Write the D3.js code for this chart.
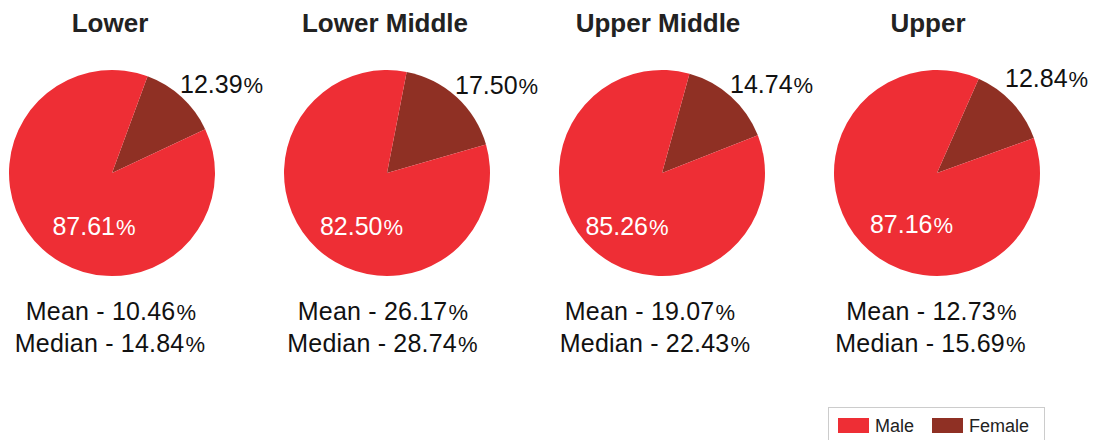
<!DOCTYPE html>
<html>
<head>
<meta charset="utf-8">
<script src="https://cdn.jsdelivr.net/npm/d3@7"></script>
<style>
  html, body { margin: 0; padding: 0; background: #fff; }
  svg { display: block; font-family: "Liberation Sans", Arial, Helvetica, sans-serif; }
</style>
</head>
<body>
<svg id="chart" width="1095" height="440"></svg>
<script>
// ---- data ----
const categories = ["Lower", "Lower Middle", "Upper Middle", "Upper"];
const seriesNames = ["Male", "Female"];
const maleShare = [87.61, 82.50, 85.26, 87.16];
const femaleShare = [12.39, 17.50, 14.74, 12.84];
const meanGap = [10.46, 26.17, 19.07, 12.73];
const medianGap = [14.84, 28.74, 22.43, 15.69];

// ---- layout / style ----
const colors = { Male: "#EE2E35", Female: "#8F3024" };
const femaleMidDeg = [42.5, 42.5, 42, 47];   // rotation of the female slice
const titleShift = [-2, -2, -4, -9];
const meanShift = [-1, -4, -12, -5.5];
const medianShift = [-2, -4.5, -7, -6.5];
const femLabelDY = [-80, -79, -80, -86];
const maleLabelDX = [-18, -25.5, -35, -25.5];
const maleLabelDY = [62, 62, 62, 60];
const radius = 103, cy = 173;

const svg = d3.select("#chart");
const x = d3.scalePoint().domain(categories).range([112, 937]);
const arc = d3.arc().innerRadius(0).outerRadius(radius);

function pctText(sel, prefix, value) {
  sel.append("tspan").text(prefix + value.toFixed(2));
  sel.append("tspan").attr("font-size", "0.88em").attr("dx", 1).text("%");
}

categories.forEach((cat, i) => {
  const cx = x(cat);
  const fem = femaleShare[i], male = maleShare[i];
  const start = (femaleMidDeg[i] - fem * 3.6 / 2) * Math.PI / 180;
  const pie = d3.pie().sort(null).value(d => d.v)
    .startAngle(start).endAngle(start + 2 * Math.PI);
  const arcs = pie([{ k: "Female", v: fem }, { k: "Male", v: male }]);

  const g = svg.append("g").attr("transform", `translate(${cx},${cy})`);
  g.selectAll("path").data(arcs).enter().append("path")
    .attr("d", arc)
    .attr("fill", d => colors[d.data.k]);

  // title
  svg.append("text")
    .attr("x", cx + titleShift[i]).attr("y", 32)
    .attr("text-anchor", "middle")
    .attr("font-size", 26).attr("font-weight", "bold")
    .attr("fill", "#222")
    .text(cat);

  // female label
  const ft = g.append("text")
    .attr("x", 68).attr("y", femLabelDY[i])
    .attr("font-size", 25).attr("fill", "#111");
  pctText(ft, "", fem);

  // male label
  const mt = g.append("text")
    .attr("x", maleLabelDX[i]).attr("y", maleLabelDY[i])
    .attr("text-anchor", "middle")
    .attr("font-size", 25).attr("fill", "#fff");
  pctText(mt, "", male);

  // mean / median
  const t1 = svg.append("text").attr("x", cx + meanShift[i]).attr("y", 320)
    .attr("text-anchor", "middle").attr("font-size", 25)
    .attr("letter-spacing", 0.2).attr("fill", "#111");
  pctText(t1, "Mean - ", meanGap[i]);
  const t2 = svg.append("text").attr("x", cx + medianShift[i]).attr("y", 352)
    .attr("text-anchor", "middle").attr("font-size", 25)
    .attr("letter-spacing", 0.2).attr("fill", "#111");
  pctText(t2, "Median - ", medianGap[i]);
});

// ---- legend ----
const lg = svg.append("g").attr("transform", "translate(828,407)");
lg.append("rect").attr("x", 0.5).attr("y", 0.5).attr("width", 216).attr("height", 40)
  .attr("fill", "#fff").attr("stroke", "#ccc").attr("stroke-width", 1);
const legendX = [10, 104];
seriesNames.forEach((s, i) => {
  lg.append("rect").attr("x", legendX[i]).attr("y", 11).attr("width", 31).attr("height", 15)
    .attr("fill", colors[s]);
  lg.append("text").attr("x", legendX[i] + 37).attr("y", 25)
    .attr("font-size", 18).attr("fill", "#222").text(s);
});
</script>
</body>
</html>
